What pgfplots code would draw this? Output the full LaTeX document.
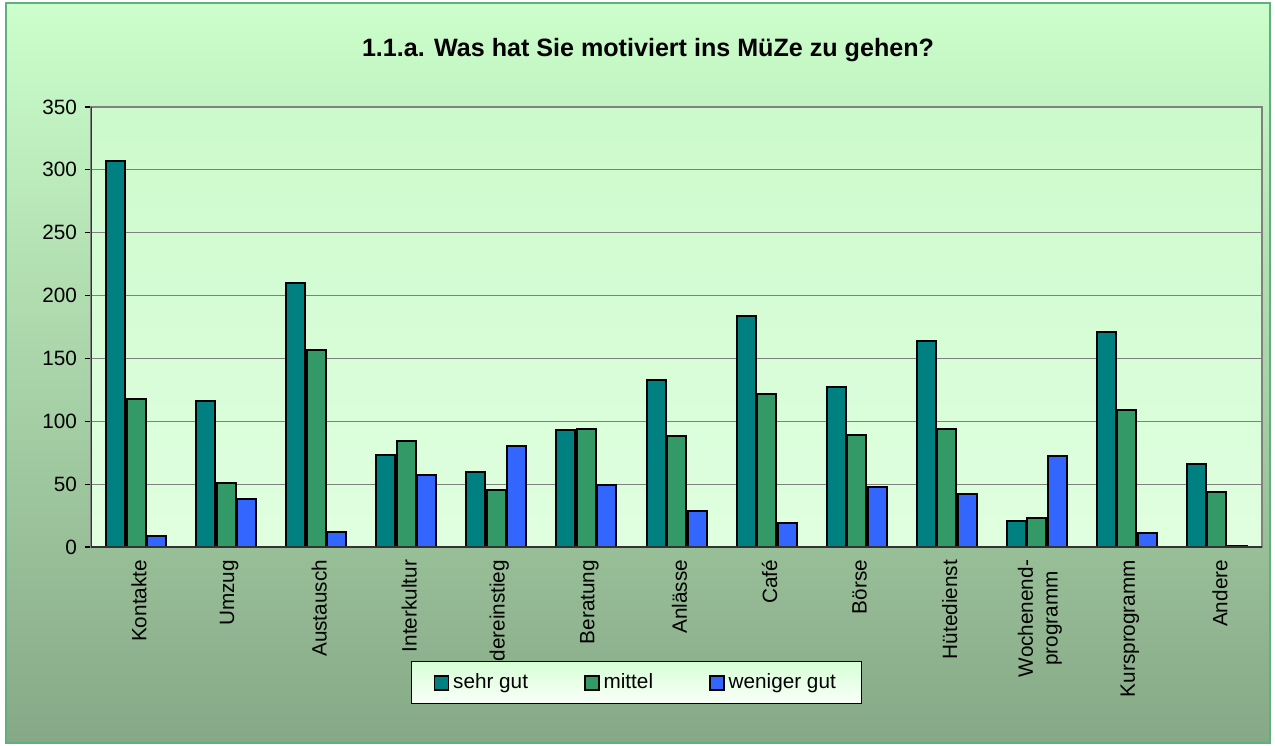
\documentclass[border=0pt]{standalone}
\usepackage{fontspec}
\setmainfont{Liberation Sans}
\usepackage{pgfplots}
\usepackage{pgfplotstable}
\pgfplotsset{compat=1.18}
\definecolor{sehr}{HTML}{008080}
\definecolor{mitt}{HTML}{339966}
\definecolor{wen}{HTML}{3366FF}
\definecolor{bgtop}{HTML}{CCFFCC}
\definecolor{bgbot}{HTML}{86A886}
\definecolor{frame}{HTML}{5FAF7F}
\definecolor{patop}{HTML}{CCFACC}
\definecolor{pabot}{HTML}{E0FFE0}
\definecolor{gridc}{HTML}{808080}
\pgfplotstableread{
x sehr mittel weniger
0 307 118 9
1 116 51 38
2 210 157 12
3 73 84 57
4 60 45 80
5 93 94 49
6 133 88 29
7 184 122 19
8 127 89 48
9 164 94 42
10 21 23 72
11 171 109 11
12 66 44 1
}\data
\begin{document}
\begin{tikzpicture}
\useasboundingbox (-45.5bp,-99.5bp) rectangle (592bp,273.5bp);
\shadedraw[top color=bgtop, bottom color=bgbot, draw=frame, line width=1bp] (-42.5bp,-98bp) rectangle (589.5bp,272bp);
\node[font=\bfseries\fontsize{12.6}{15}\selectfont] at (278.5bp,248.5bp) {1.1.a. Was hat Sie motiviert ins MüZe zu gehen?};
\begin{axis}[
  at={(0,0)}, anchor=south west,
  scale only axis, width=585.5bp, height=220bp,
  xmin=-0.5, xmax=12.5, ymin=0, ymax=350,
  ytick={0,50,...,350},
  xtick={0,...,12},
  xticklabels={Kontakte,Umzug,Austausch,Interkultur,Wiedereinstieg,Beratung,Anlässe,Café,Börse,Hütedienst,{Wochenend-\\programm},Kursprogramm,Andere},
  extra x ticks={-0.5,0.5,...,12.5},
  extra x tick labels={},
  extra x tick style={major tick length=3bp, grid=none, tick style={black, line width=0.6bp}},
  major x tick style={draw=none},
  ytick pos=left,
  tick align=outside,
  major tick length=3bp,
  y tick style={black, line width=0.6bp},
  ymajorgrids, major grid style={gridc, line width=0.6bp},
  axis line style={gridc, line width=0.8bp},
  axis background/.style={top color=patop, bottom color=pabot},
  /pgf/number format/assume math mode=true,
  tick label style={font=\fontsize{10.4}{12.4}\selectfont, black},
  yticklabel style={xshift=-0.5bp},
  xticklabel style={rotate=90, anchor=east, align=center, yshift=-1.5bp},
  ybar=0.75bp, bar width=9.5bp,
  legend style={at={(axis description cs:0.466,-0.309)}, anchor=center,
    legend columns=3, draw=black, line width=0.5bp,
    top color=bgtop!80!white, bottom color=white!90!bgtop,
    font=\fontsize{10.4}{12}\selectfont,
    inner xsep=11bp, inner ysep=4bp,
    /tikz/every even column/.append style={column sep=26bp}},
  legend image code/.code={\draw[#1, line width=0.8bp] (0bp,-3.5bp) rectangle (7bp,3.5bp);},
  legend cell align=left,
]
\addplot[fill=sehr, draw=black, line width=1bp] table[x=x,y=sehr] {\data};
\addplot[fill=mitt, draw=black, line width=1bp] table[x=x,y=mittel] {\data};
\addplot[fill=wen, draw=black, line width=1bp] table[x=x,y=weniger] {\data};
\legend{sehr gut, mittel, weniger gut}
\draw[black!80, line width=0.8bp] (rel axis cs:0,1) -- (rel axis cs:0,0) -- (rel axis cs:1,0);
\end{axis}
\end{tikzpicture}
\end{document}
